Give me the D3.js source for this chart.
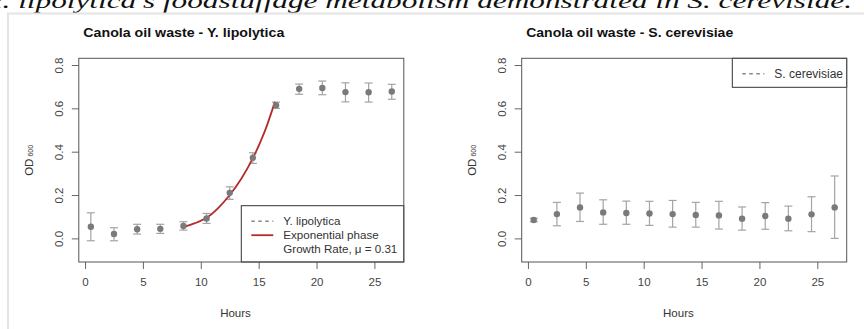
<!DOCTYPE html>
<html><head><meta charset="utf-8">
<script src="https://cdn.jsdelivr.net/npm/d3@7"></script>
<style>body{margin:0;background:#fff}svg{display:block}</style>
</head><body>
<svg id="c" width="864" height="329"></svg>
<script>
const hours = [0.5,2.5,4.5,6.5,8.5,10.5,12.5,14.5,16.5,18.5,20.5,22.5,24.5,26.5];
const yliMean = [0.054,0.02,0.042,0.044,0.057,0.092,0.21,0.372,0.614,0.69,0.694,0.675,0.674,0.678];
const yliLow  = [-0.011,-0.011,0.02,0.023,0.038,0.069,0.18,0.346,0.60,0.665,0.663,0.63,0.629,0.642];
const yliHigh = [0.118,0.049,0.065,0.065,0.077,0.115,0.238,0.395,0.629,0.712,0.726,0.718,0.717,0.711];
const sceMean = [0.085,0.112,0.143,0.12,0.117,0.115,0.112,0.108,0.106,0.091,0.103,0.091,0.111,0.143];
const sceLow  = [0.077,0.058,0.078,0.065,0.065,0.06,0.052,0.052,0.043,0.038,0.042,0.035,0.031,0.0];
const sceHigh = [0.093,0.166,0.209,0.178,0.172,0.171,0.175,0.166,0.171,0.145,0.165,0.149,0.192,0.288];
const fitHours = [8.5,9.5,10.5,11.5,12.5,13.5,14.5,15.5,16.4];
const fitOD    = [0.052,0.07,0.095,0.14,0.2,0.275,0.37,0.49,0.63];
const xTicks = [0,5,10,15,20,25];
const yTicks = [0.0,0.2,0.4,0.6,0.8];
const titles = ["Canola oil waste - Y. lipolytica","Canola oil waste - S. cerevisiae"];
const caption = "Y. lipolytica's foodstuffage metabolism demonstrated in S. cerevisiae.";

const svg = d3.select("#c");
const font = "Liberation Sans, Arial, sans-serif";

// caption cut at top (as in the reference screenshot)
svg.append("text").attr("x",-12).attr("y",8).attr("font-family","Liberation Serif, Times New Roman, serif")
  .attr("font-style","italic").attr("font-size",22).attr("fill","#111")
  .attr("textLength",864).attr("lengthAdjust","spacingAndGlyphs").text(caption);
// outer frame
svg.append("path").attr("d","M8,329 V13.5 H864").attr("fill","none").attr("stroke","#e4e4e4").attr("stroke-width",2);

function panel(left, mean, low, high, title, opts){
  const x = d3.scaleLinear().domain([-0.54,27.54]).range([left, left+325]);
  const y = d3.scaleLinear().domain([-0.109,0.831]).range([262,58.3]);
  const g = svg.append("g");
  g.append("text").attr("x",left+4.5).attr("y",37).attr("font-family",font).attr("font-weight","bold")
    .attr("font-size",12.5).attr("fill","#111")
    .attr("textLength",opts.titleW).attr("lengthAdjust","spacingAndGlyphs").text(title);
  // axes (ticks attached to box, R style)
  const xa = g.append("g").attr("transform","translate(0,262)")
    .call(d3.axisBottom(x).tickValues(xTicks).tickSize(7).tickPadding(9).tickFormat(d3.format("d")));
  const ya = g.append("g").attr("transform",`translate(${left},0)`)
    .call(d3.axisLeft(y).tickValues(yTicks).tickSize(7).tickPadding(5).tickFormat(d3.format(".1f")));
  [xa,ya].forEach(a=>{
    a.select(".domain").remove();
    a.selectAll("line").attr("stroke","#666");
    a.selectAll("text").attr("font-family",font).attr("font-size",11.5).attr("fill","#444");
  });
  ya.selectAll(".tick text").attr("x",-20).attr("y",0).attr("dy","0.35em")
    .attr("text-anchor","middle").attr("transform","rotate(-90,-20,0)");
  // axis titles
  g.append("text").attr("x",x(13)).attr("y",317).attr("text-anchor","middle").attr("font-family",font)
    .attr("font-size",11.5).attr("fill","#333").text("Hours");
  const od = g.append("text").attr("transform",`translate(${left-46},${y(0.36)}) rotate(-90)`)
    .attr("text-anchor","middle").attr("font-family",font).attr("font-size",11.5).attr("fill","#333");
  od.append("tspan").text("OD");
  od.append("tspan").attr("font-size",7).attr("dx",2).text("600");
  // error bars
  const eb = g.append("g").attr("stroke","#a4a4a4").attr("stroke-width",1.2);
  hours.forEach((h,i)=>{
    eb.append("line").attr("x1",x(h)).attr("x2",x(h)).attr("y1",y(low[i])).attr("y2",y(high[i]));
    eb.append("line").attr("x1",x(h)-4).attr("x2",x(h)+4).attr("y1",y(low[i])).attr("y2",y(low[i]));
    eb.append("line").attr("x1",x(h)-4).attr("x2",x(h)+4).attr("y1",y(high[i])).attr("y2",y(high[i]));
  });
  if(opts.fit){
    g.append("path").datum(fitHours.map((h,i)=>[h,fitOD[i]]))
      .attr("d",d3.line().x(d=>x(d[0])).y(d=>y(d[1])).curve(d3.curveCatmullRom))
      .attr("fill","none").attr("stroke","#b52a2a").attr("stroke-width",1.8);
  }
  g.selectAll("circle.p").data(hours).join("circle").attr("cx",d=>x(d)).attr("cy",(d,i)=>y(mean[i]))
    .attr("r",3.2).attr("fill","#7a7a7a");
  // legend
  const L = opts.legend;
  g.append("rect").attr("x",L.x).attr("y",L.y).attr("width",left+325-L.x).attr("height",L.h)
    .attr("fill","#fff").attr("stroke","#333").attr("stroke-width",1);
  L.rows.forEach((r,i)=>{
    const ry = L.y + 15.5 + i*14;
    if(r.kind==="dash") g.append("line").attr("x1",L.x+10).attr("x2",L.x+32).attr("y1",ry).attr("y2",ry)
        .attr("stroke","#888").attr("stroke-width",1.5).attr("stroke-dasharray","3.5,3.5");
    if(r.kind==="red") g.append("line").attr("x1",L.x+10).attr("x2",L.x+32).attr("y1",ry).attr("y2",ry)
        .attr("stroke","#b52a2a").attr("stroke-width",1.8);
    g.append("text").attr("x",L.x+L.tx).attr("y",ry).attr("dy","0.35em").attr("font-family",font)
      .attr("font-size",L.fs).attr("fill","#333").text(r.label);
  });
  // plot box
  g.append("rect").attr("x",left).attr("y",58.3).attr("width",325).attr("height",262-58.3)
    .attr("fill","none").attr("stroke","#555").attr("stroke-width",1);
}

panel(78.8, yliMean, yliLow, yliHigh, titles[0], {fit:true, titleW:201,
  legend:{x:241.3,y:205.7,h:262-205.7,tx:42,fs:11.6,rows:[{kind:"dash",label:"Y. lipolytica"},{kind:"red",label:"Exponential phase"},{kind:"none",label:"Growth Rate, \u03bc = 0.31"}]}});
panel(521.7, sceMean, sceLow, sceHigh, titles[1], {fit:false, titleW:207,
  legend:{x:732.3,y:58.3,h:29,tx:42,fs:12,rows:[{kind:"dash",label:"S. cerevisiae"}]}});
</script>
</body></html>
